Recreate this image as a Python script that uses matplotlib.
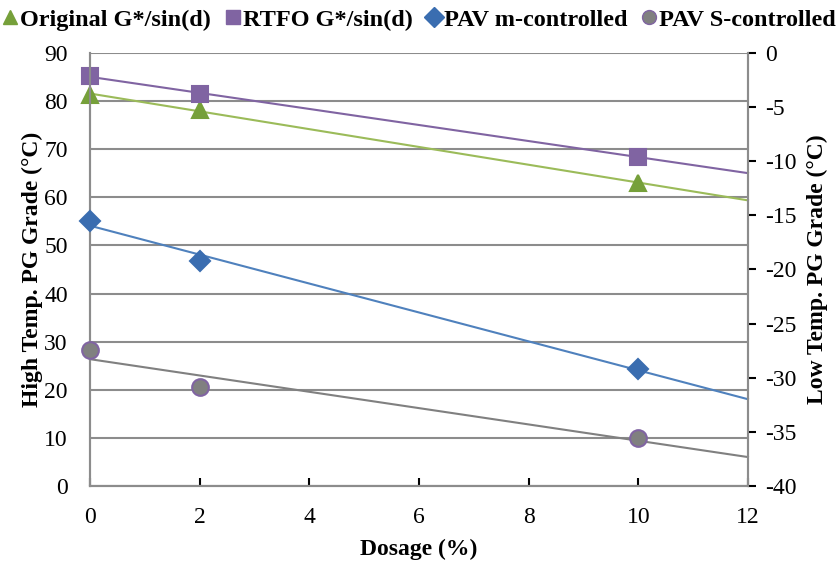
import numpy as np
import matplotlib
matplotlib.use("Agg")
import matplotlib.pyplot as plt
from matplotlib.lines import Line2D

plt.rcParams['font.family'] = ['Liberation Serif', 'DejaVu Serif']
plt.rcParams['axes.unicode_minus'] = False

dosage = [0, 2, 10]
original = [81.3, 78.2, 63.0]        # left axis
rtfo = [85.2, 81.5, 68.4]            # left axis
pav_m = [-15.5, -19.2, -29.2]        # right axis
pav_s = [-27.4, -30.9, -35.6]        # right axis

left_ticks = list(range(0, 91, 10))
right_ticks = list(range(-40, 1, 5))
x_ticks = list(range(0, 13, 2))

GRID = '#8c8c8c'
FS = 17
fig = plt.figure(figsize=(8.39, 5.63), dpi=100)
ax = fig.add_axes([0.1073, 0.1368, 0.7842, 0.7691])
ax2 = ax.twinx()

ax.set_xlim(0, 12)
ax.set_ylim(0, 90)
ax2.set_ylim(-40, 0)
ax.set_xticks(x_ticks)
ax.set_yticks(left_ticks)
ax2.set_yticks(right_ticks)
ax.yaxis.grid(True, color=GRID, linewidth=1.5)
ax.set_axisbelow(True)

for a in (ax, ax2):
    for s in a.spines.values():
        s.set_color(GRID)
        s.set_linewidth(1.5)
    a.spines['top'].set_visible(False)
    a.tick_params(labelsize=FS, colors='black', width=1.5, length=6)
    for t in a.yaxis.get_ticklines() + a.xaxis.get_ticklines():
        t.set_color(GRID)
ax.tick_params(axis='y', length=0, pad=16)
ax.tick_params(axis='x', direction='in', length=6, pad=15)
ax2.tick_params(axis='y', direction='out', length=6, pad=6)

xfit = np.array([0, 12])

def series(a, y, lc, mc, mec, marker, ms, label):
    c = np.polyfit(dosage, y, 1)
    a.plot(xfit, np.polyval(c, xfit), color=lc, linewidth=1.5, zorder=2, clip_on=False)
    a.plot(dosage, y, linestyle='none', marker=marker, markersize=ms, color=mc,
           markeredgecolor=mec, markeredgewidth=1.5, zorder=5, clip_on=False)
    return Line2D([], [], linestyle='none', marker=marker, markersize=10, color=mc,
                  markeredgecolor=mec, label=label)

h = []
h.append(series(ax, original, '#9BBB59', '#76A03A', '#76A03A', '^', 12, 'Original G*/sin(d)'))
h.append(series(ax, rtfo, '#8064A2', '#8064A2', '#8064A2', 's', 11, 'RTFO G*/sin(d)'))
h.append(series(ax2, pav_m, '#4F81BD', '#3A6DB0', '#3A6DB0', 'D', 10, 'PAV m-controlled'))
h.append(series(ax2, pav_s, '#808080', '#808080', '#8064A2', 'o', 12, 'PAV S-controlled'))

ax.set_xlabel('Dosage (%)', fontsize=FS, fontweight='bold', labelpad=8)
ax.set_ylabel('High Temp. PG Grade (°C)', fontsize=FS, fontweight='bold', labelpad=1)
ax2.set_ylabel('Low Temp. PG Grade (°C)', fontsize=FS, fontweight='bold', labelpad=8)

fig.legend(handles=h, loc='upper center', bbox_to_anchor=(0.5, 1.01), ncol=4,
           frameon=False, prop={'size': 17.5, 'weight': 'bold'},
           handlelength=0.6, handletextpad=0.1, columnspacing=0.6, borderaxespad=0.2)

fig.savefig('out.png', dpi=100)
